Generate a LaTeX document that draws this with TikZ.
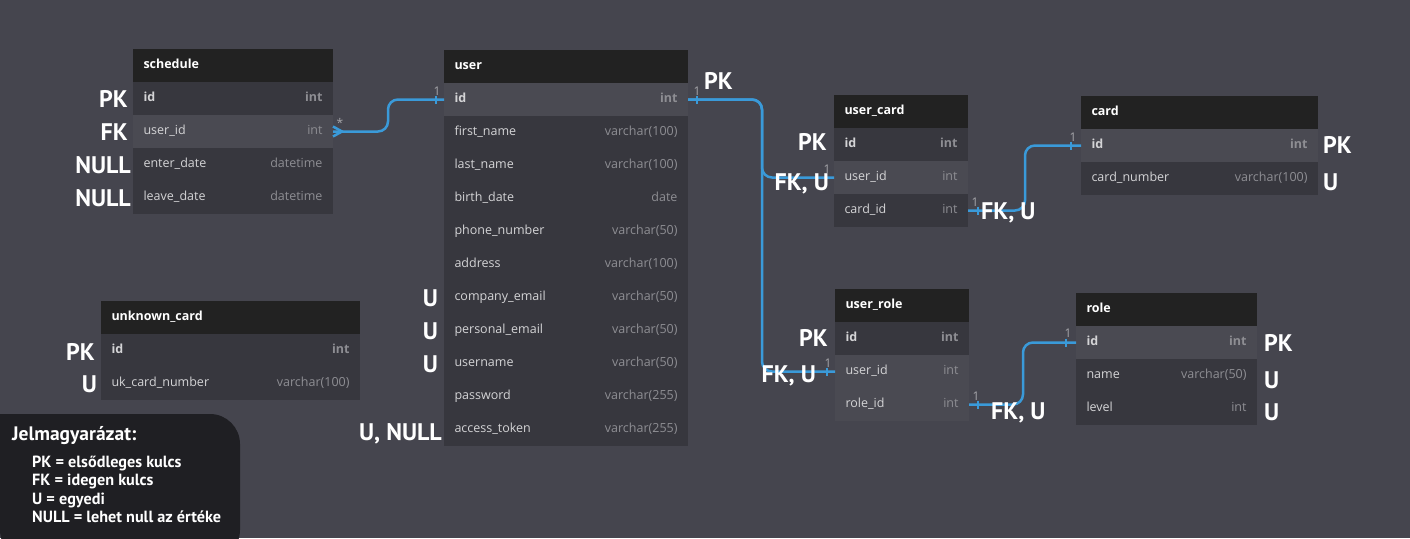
\documentclass[tikz,border=0pt]{standalone}
\usepackage{fontspec}
\setmainfont{Open Sans}
\newfontfamily\keyfont{PT Sans}
\usetikzlibrary{positioning, calc}

\definecolor{bggray}{HTML}{45454E}
\definecolor{headblack}{HTML}{222222}
\definecolor{rowdark}{HTML}{37373E}
\definecolor{rowlight}{HTML}{4A4A52}
\definecolor{namegray}{HTML}{D4D4D6}
\definecolor{typegray}{HTML}{8E8E93}
\definecolor{linkblue}{HTML}{3A9AD9}
\definecolor{legendblack}{HTML}{1F1F23}
\definecolor{multgray}{HTML}{A6A6AA}

\tikzset{
    my-head/.style={
        rectangle, fill=headblack, text=white, font=\bfseries\fontsize{12.5}{15}\selectfont,
        minimum height=33pt, inner xsep=10.5pt, inner ysep=0pt, outer sep=0pt, text width=#1,
        text height=9pt, text depth=3pt
    },
    my-row/.style={
        rectangle, fill=rowdark, text=namegray, font=\fontsize{12.5}{15}\selectfont,
        minimum height=33pt, inner xsep=10.5pt, inner ysep=0pt, outer sep=0pt, text width=#1,
        text height=9pt, text depth=3pt
    },
    my-row-hl/.style={
        my-row=#1, fill=rowlight
    },
    my-key/.style={
        text=white, font=\keyfont\bfseries\fontsize{24}{28}\selectfont, inner sep=0pt
    },
    my-link/.style={
        draw=linkblue, line width=2.5pt, rounded corners=10pt
    },
    my-tick/.style={
        draw=linkblue, line width=2pt
    },
    my-mult/.style={
        text=multgray, font=\fontsize{12}{14}\selectfont, inner sep=0pt
    },
    my-legend-title/.style={
        text=white, font=\keyfont\bfseries\fontsize{19.5}{23}\selectfont, inner sep=0pt
    },
    my-legend-text/.style={
        text=white, font=\keyfont\bfseries\fontsize{16.2}{19}\selectfont, inner sep=0pt
    },
}

\begin{document}
\begin{tikzpicture}[x=1pt, y=-1pt]

        % CANVAS --------------------------------------------------------------------------------------
        \useasboundingbox (0, 0) rectangle (1410, 538);
        \fill[bggray] (0, 0) rectangle (1410, 538);

        % SCHEDULE ------------------------------------------------------------------------------------
        \node[my-head=179pt, anchor=north west]   (SCHEDHEAD)   at (133, 49) {schedule};
        \node[my-row=179pt, below=0pt of SCHEDHEAD]       (SCHEDID)     {\textbf{id}\hfill\textbf{\textcolor{typegray}{int}}};
        \node[my-row-hl=179pt, below=0pt of SCHEDID]      (SCHEDUSERID) {user\_id\hfill\textcolor{typegray}{int}};
        \node[my-row=179pt, below=0pt of SCHEDUSERID]     (SCHEDENTER)  {enter\_date\hfill\textcolor{typegray}{datetime}};
        \node[my-row=179pt, below=0pt of SCHEDENTER]      (SCHEDLEAVE)  {leave\_date\hfill\textcolor{typegray}{datetime}};

        % USER ----------------------------------------------------------------------------------------
        \node[my-head=223pt, anchor=north west]   (USERHEAD)    at (444, 50) {user};
        \node[my-row-hl=223pt, below=0pt of USERHEAD]     (USERID)       {\textbf{id}\hfill\textbf{\textcolor{typegray}{int}}};
        \node[my-row=223pt, below=0pt of USERID]          (USERFIRST)    {first\_name\hfill\textcolor{typegray}{varchar(100)}};
        \node[my-row=223pt, below=0pt of USERFIRST]       (USERLAST)     {last\_name\hfill\textcolor{typegray}{varchar(100)}};
        \node[my-row=223pt, below=0pt of USERLAST]        (USERBIRTH)    {birth\_date\hfill\textcolor{typegray}{date}};
        \node[my-row=223pt, below=0pt of USERBIRTH]       (USERPHONE)    {phone\_number\hfill\textcolor{typegray}{varchar(50)}};
        \node[my-row=223pt, below=0pt of USERPHONE]       (USERADDRESS)  {address\hfill\textcolor{typegray}{varchar(100)}};
        \node[my-row=223pt, below=0pt of USERADDRESS]     (USERCOMPANY)  {company\_email\hfill\textcolor{typegray}{varchar(50)}};
        \node[my-row=223pt, below=0pt of USERCOMPANY]     (USERPERSONAL) {personal\_email\hfill\textcolor{typegray}{varchar(50)}};
        \node[my-row=223pt, below=0pt of USERPERSONAL]    (USERNAME)     {username\hfill\textcolor{typegray}{varchar(50)}};
        \node[my-row=223pt, below=0pt of USERNAME]        (USERPASSWORD) {password\hfill\textcolor{typegray}{varchar(255)}};
        \node[my-row=223pt, below=0pt of USERPASSWORD]    (USERTOKEN)    {access\_token\hfill\textcolor{typegray}{varchar(255)}};

        % USER_CARD -----------------------------------------------------------------------------------
        \node[my-head=113pt, anchor=north west]   (UCHEAD)      at (834, 95) {user\_card};
        \node[my-row=113pt, below=0pt of UCHEAD]          (UCID)         {\textbf{id}\hfill\textbf{\textcolor{typegray}{int}}};
        \node[my-row-hl=113pt, below=0pt of UCID]         (UCUSERID)     {user\_id\hfill\textcolor{typegray}{int}};
        \node[my-row=113pt, below=0pt of UCUSERID]        (UCCARDID)     {card\_id\hfill\textcolor{typegray}{int}};

        % CARD ----------------------------------------------------------------------------------------
        \node[my-head=216pt, anchor=north west]   (CARDHEAD)    at (1081, 96) {card};
        \node[my-row-hl=216pt, below=0pt of CARDHEAD]     (CARDID)       {\textbf{id}\hfill\textbf{\textcolor{typegray}{int}}};
        \node[my-row=216pt, below=0pt of CARDID]          (CARDNUMBER)   {card\_number\hfill\textcolor{typegray}{varchar(100)}};

        % USER_ROLE -----------------------------------------------------------------------------------
        \node[my-head=113pt, anchor=north west]   (URHEAD)      at (835, 289) {user\_role};
        \node[my-row=113pt, below=0pt of URHEAD]          (URID)         {\textbf{id}\hfill\textbf{\textcolor{typegray}{int}}};
        \node[my-row-hl=113pt, below=0pt of URID]         (URUSERID)     {user\_id\hfill\textcolor{typegray}{int}};
        \node[my-row-hl=113pt, below=0pt of URUSERID]     (URROLEID)     {role\_id\hfill\textcolor{typegray}{int}};

        % ROLE ----------------------------------------------------------------------------------------
        \node[my-head=160pt, anchor=north west]   (ROLEHEAD)    at (1076, 293) {role};
        \node[my-row-hl=160pt, below=0pt of ROLEHEAD]     (ROLEID)       {\textbf{id}\hfill\textbf{\textcolor{typegray}{int}}};
        \node[my-row=160pt, below=0pt of ROLEID]          (ROLENAME)     {name\hfill\textcolor{typegray}{varchar(50)}};
        \node[my-row=160pt, below=0pt of ROLENAME]        (ROLELEVEL)    {level\hfill\textcolor{typegray}{int}};

        % UNKNOWN_CARD --------------------------------------------------------------------------------
        \node[my-head=238pt, anchor=north west]   (UKHEAD)      at (101, 301) {unknown\_card};
        \node[my-row=238pt, below=0pt of UKHEAD]          (UKID)         {\textbf{id}\hfill\textbf{\textcolor{typegray}{int}}};
        \node[my-row=238pt, below=0pt of UKID]            (UKNUMBER)     {uk\_card\_number\hfill\textcolor{typegray}{varchar(100)}};

        % RELATIONS -----------------------------------------------------------------------------------

        % SCHEDULE.USER_ID -> USER.ID
        \coordinate (SCHEDBEND) at ($(SCHEDUSERID.east) + (55, 0)$);
        \draw[my-link] (SCHEDUSERID.east) -- (SCHEDBEND) |- (USERID.west);
        \draw[my-link, sharp corners] ($(SCHEDUSERID.east) + (0, -5)$) -- ($(SCHEDUSERID.east) + (9, 0)$) -- ($(SCHEDUSERID.east) + (0, 5)$);
        \draw[my-tick] ($(USERID.west) + (-8, -4)$) -- ($(USERID.west) + (-8, 4)$);
        \node[my-mult] (SCHEDMANY) at ($(SCHEDUSERID.east) + (7, -9)$) {*};
        \node[my-mult] (SCHEDONE)  at ($(USERID.west) + (-7, -8)$)     {1};

        % USER.ID -> USER_CARD.USER_ID AND USER_ROLE.USER_ID
        \coordinate (USERBEND) at ($(USERID.east) + (74, 0)$);
        \draw[my-link] (USERID.east) -- (USERBEND) |- (UCUSERID.west);
        \draw[my-link] (USERID.east) -- (USERBEND) |- (URUSERID.west);
        \draw[my-tick] ($(USERID.east) + (9, -4)$)    -- ($(USERID.east) + (9, 4)$);
        \draw[my-tick] ($(UCUSERID.west) + (-8, -4)$) -- ($(UCUSERID.west) + (-8, 4)$);
        \draw[my-tick] ($(URUSERID.west) + (-8, -4)$) -- ($(URUSERID.west) + (-8, 4)$);
        \node[my-mult] (USERONE)   at ($(USERID.east) + (9, -8)$)     {1};
        \node[my-mult] (UCUSERONE) at ($(UCUSERID.west) + (-7, -8)$)  {1};
        \node[my-mult] (URUSERONE) at ($(URUSERID.west) + (-7, -8)$)  {1};

        % USER_CARD.CARD_ID -> CARD.ID
        \coordinate (CARDBEND) at ($(UCCARDID.east) + (57, 0)$);
        \draw[my-link] (UCCARDID.east) -- (CARDBEND) |- (CARDID.west);
        \draw[my-tick] ($(UCCARDID.east) + (10, -4)$) -- ($(UCCARDID.east) + (10, 4)$);
        \draw[my-tick] ($(CARDID.west) + (-10, -4)$)  -- ($(CARDID.west) + (-10, 4)$);
        \node[my-mult] (UCCARDONE) at ($(UCCARDID.east) + (7, -8)$)  {1};
        \node[my-mult] (CARDONE)   at ($(CARDID.west) + (-8, -8)$)   {1};

        % USER_ROLE.ROLE_ID -> ROLE.ID
        \coordinate (ROLEBEND) at ($(URROLEID.east) + (54, 0)$);
        \draw[my-link] (URROLEID.east) -- (ROLEBEND) |- (ROLEID.west);
        \draw[my-tick] ($(URROLEID.east) + (9, -4)$)  -- ($(URROLEID.east) + (9, 4)$);
        \draw[my-tick] ($(ROLEID.west) + (-10, -4)$)  -- ($(ROLEID.west) + (-10, 4)$);
        \node[my-mult] (URROLEONE) at ($(URROLEID.east) + (7, -8)$)  {1};
        \node[my-mult] (ROLEONE)   at ($(ROLEID.west) + (-8, -9)$)   {1};

        % KEY LABELS ----------------------------------------------------------------------------------
        \node[my-key, anchor=base east] (SCHEDPK)    at ($(SCHEDID.west) + (-5, 8.5)$)     {PK};
        \node[my-key, anchor=base east] (SCHEDFK)    at ($(SCHEDUSERID.west) + (-5, 9)$)   {FK};
        \node[my-key, anchor=base east] (SCHEDNULL1) at ($(SCHEDENTER.west) + (-2, 9)$)    {NULL};
        \node[my-key, anchor=base east] (SCHEDNULL2) at ($(SCHEDLEAVE.west) + (-2, 9)$)    {NULL};

        \node[my-key, anchor=base west] (USERPK)     at ($(USERID.east) + (16, -10.5)$)    {PK};
        \node[my-key, anchor=base east] (USERU1)     at ($(USERCOMPANY.west) + (-6, 9)$)   {U};
        \node[my-key, anchor=base east] (USERU2)     at ($(USERPERSONAL.west) + (-6, 9)$)  {U};
        \node[my-key, anchor=base east] (USERU3)     at ($(USERNAME.west) + (-6, 9)$)      {U};
        \node[my-key, anchor=base east] (USERUNULL)  at ($(USERTOKEN.west) + (-2, 10.5)$)  {U, NULL};

        \node[my-key, anchor=base east] (UCPK)       at ($(UCID.west) + (-7, 6)$)          {PK};
        \node[my-key, anchor=base east] (UCFKU1)     at ($(UCUSERID.west) + (-5, 12.5)$)   {FK, U};
        \node[my-key, anchor=base west] (UCFKU2)     at ($(UCCARDID.east) + (13, 8.5)$)    {FK, U};

        \node[my-key, anchor=base west] (CARDPK)     at ($(CARDID.east) + (5, 7.5)$)       {PK};
        \node[my-key, anchor=base west] (CARDU)      at ($(CARDNUMBER.east) + (5, 11.5)$)  {U};

        \node[my-key, anchor=base east] (URPK)       at ($(URID.west) + (-7, 7.5)$)        {PK};
        \node[my-key, anchor=base east] (URFKU1)     at ($(URUSERID.west) + (-19, 10.5)$)  {FK, U};
        \node[my-key, anchor=base west] (URFKU2)     at ($(URROLEID.east) + (22, 14.5)$)   {FK, U};

        \node[my-key, anchor=base west] (ROLEPK)     at ($(ROLEID.east) + (7, 8.5)$)       {PK};
        \node[my-key, anchor=base west] (ROLEU1)     at ($(ROLENAME.east) + (7, 12.5)$)    {U};
        \node[my-key, anchor=base west] (ROLEU2)     at ($(ROLELEVEL.east) + (7, 11.5)$)   {U};

        \node[my-key, anchor=base east] (UKPK)       at ($(UKID.west) + (-6, 9.5)$)        {PK};
        \node[my-key, anchor=base east] (UKU)        at ($(UKNUMBER.west) + (-4, 8.5)$)    {U};

        % LEGEND --------------------------------------------------------------------------------------
        \fill[legendblack] (0, 560) -- (0, 414) [rounded corners=30pt] -- (240, 414) -- (240, 560) -- cycle;
        \node[my-legend-title, anchor=base west] (LEGENDTITLE) at (12, 440) {Jelmagyarázat:};
        \node[my-legend-text, anchor=base west]  (LEGENDPK)    at (32, 467) {PK = elsődleges kulcs};
        \node[my-legend-text, anchor=base west]  (LEGENDFK)    at ($(LEGENDPK.base west) + (0, 18.5)$)   {FK = idegen kulcs};
        \node[my-legend-text, anchor=base west]  (LEGENDU)     at ($(LEGENDFK.base west) + (0, 18.5)$)   {U = egyedi};
        \node[my-legend-text, anchor=base west]  (LEGENDNULL)  at ($(LEGENDU.base west) + (0, 18.5)$)    {NULL = lehet null az értéke};

\end{tikzpicture}
\end{document}
